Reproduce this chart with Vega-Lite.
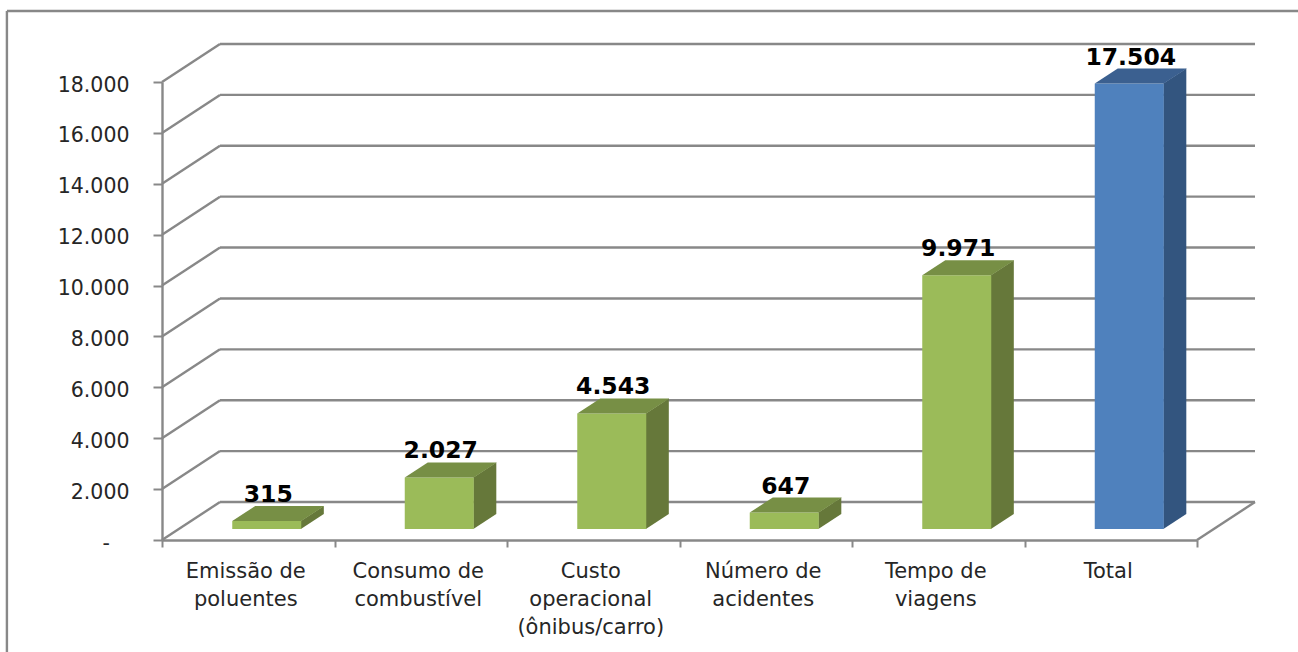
{
"$schema":"https://vega.github.io/schema/vega-lite/v6.json",
"width":1035,"height":458,
"autosize":{"type":"none"},
"padding":{"left":162,"top":82,"right":101,"bottom":112},
"background":"white",
"config":{"view":{"stroke":null},"locale":{"number":{"decimal":",","thousands":".","grouping":[3],"currency":["R$",""]}}},
"datasets":{
"barras":[
{"categoria":"Emissão de|poluentes","valor":315,"grupo":"Parcela"},
{"categoria":"Consumo de|combustível","valor":2027,"grupo":"Parcela"},
{"categoria":"Custo|operacional|(ônibus/carro)","valor":4543,"grupo":"Parcela"},
{"categoria":"Número de|acidentes","valor":647,"grupo":"Parcela"},
{"categoria":"Tempo de|viagens","valor":9971,"grupo":"Parcela"},
{"categoria":"Total","valor":17504,"grupo":"Total"}
],
"grade":[{"v":0},{"v":2000},{"v":4000},{"v":6000},{"v":8000},{"v":10000},{"v":12000},{"v":14000},{"v":16000},{"v":18000}]
},
"layer":[
{"data":{"values":[{"m":"a"}]},
 "mark":{"type":"rule","color":"#888888","strokeWidth":2.4,"clip":false},
 "encoding":{"x":{"datum":-0.899,"type":"quantitative","scale":{"domain":[0,6]},"axis":null},
  "y":{"datum":20790,"type":"quantitative","scale":{"domain":[0,18000],"nice":false},"axis":null},
  "y2":{"datum":-4600}}},
{"data":{"values":[{"m":"b"}]},
 "mark":{"type":"rule","color":"#888888","strokeWidth":2.4,"clip":false},
 "encoding":{"x":{"datum":-0.899,"type":"quantitative","scale":{"domain":[0,6]},"axis":null},
  "x2":{"datum":6.59},
  "y":{"datum":20790,"type":"quantitative","scale":{"domain":[0,18000],"nice":false},"axis":null}}},
{"data":{"name":"barras"},
 "mark":{"type":"bar","opacity":0},
 "encoding":{"x":{"field":"categoria","type":"nominal","sort":null,"scale":{"paddingInner":0,"paddingOuter":0},
   "axis":{"title":null,"tickBand":"extent","labelAngle":0,"labelExpr":"split(datum.label,'|')","labelFont":"DejaVu Sans","labelFontSize":21,"labelColor":"#262626","labelLineHeight":28,"labelPadding":13,"labelOffset":-3,"labelLimit":400,"labelBaseline":"top","domainColor":"#888888","domainWidth":2.4,"tickColor":"#888888","tickWidth":2,"tickSize":7}},
  "y":{"field":"valor","type":"quantitative","scale":{"domain":[0,18000],"nice":false},
   "axis":{"title":null,"values":[0,2000,4000,6000,8000,10000,12000,14000,16000,18000],"grid":false,"labelExpr":"datum.value==0?'-\u00a0\u00a0\u00a0\u200b':format(datum.value,',d')","labelFont":"DejaVu Sans","labelFontSize":20.5,"labelColor":"#262626","labelPadding":24,"labelOffset":3,"domainColor":"#888888","domainWidth":2.4,"tickColor":"#888888","tickWidth":2,"tickSize":9}}}},
{"data":{"name":"grade"},
 "mark":{"type":"rule","color":"#888888","strokeWidth":2.4,"xOffset":58,"x2Offset":58,"yOffset":-38,"clip":false},
 "encoding":{"x":{"datum":0,"type":"quantitative","scale":{"domain":[0,6]},"axis":null},"x2":{"datum":6},
  "y":{"field":"v","type":"quantitative","axis":null}}},
{"data":{"name":"grade"},
 "mark":{"type":"rule","color":"#888888","strokeWidth":2.4,"x2Offset":58,"y2Offset":-38,"clip":false},
 "encoding":{"x":{"datum":0,"type":"quantitative","scale":{"domain":[0,6]},"axis":null},"x2":{"datum":0},
  "y":{"field":"v","type":"quantitative","axis":null},"y2":{"field":"v"}}},
{"data":{"values":[{"m":"c"}]},
 "mark":{"type":"rule","color":"#888888","strokeWidth":2.4,"x2Offset":58,"y2Offset":-38,"clip":false},
 "encoding":{"x":{"datum":6,"type":"quantitative","scale":{"domain":[0,6]},"axis":null},"x2":{"datum":6},
  "y":{"datum":0,"type":"quantitative","axis":null},"y2":{"datum":0}}},
{"data":{"name":"barras"},
 "transform":[
  {"window":[{"op":"row_number","as":"n"}]},
  {"calculate":"[0,1]","as":"face"},
  {"flatten":["face"]},
  {"calculate":"datum.n-1+0.805+0.133*datum.face","as":"xp"},
  {"calculate":"datum.valor+590*datum.face","as":"yt"},
  {"calculate":"590*datum.face","as":"yb"}
 ],
 "mark":{"type":"area","orient":"vertical","yOffset":-11,"y2Offset":-11,"opacity":1,"clip":false},
 "encoding":{"x":{"field":"xp","type":"quantitative","scale":{"domain":[0,6]},"axis":null},
  "y":{"field":"yt","type":"quantitative","axis":null},"y2":{"field":"yb"},
  "detail":{"field":"categoria"},
  "color":{"field":"grupo","type":"nominal","scale":{"domain":["Parcela","Total"],"range":["#66783A","#33557F"]},"legend":null}}},
{"data":{"name":"barras"},
 "mark":{"type":"bar","width":69,"xOffset":18.5,"yOffset":-11,"y2Offset":-11,"clip":false},
 "encoding":{"x":{"field":"categoria","type":"nominal","sort":null,"scale":{"paddingInner":0,"paddingOuter":0},"axis":null},
  "y":{"field":"valor","type":"quantitative","axis":null},"y2":{"datum":0},
  "color":{"field":"grupo","type":"nominal","scale":{"domain":["Parcela","Total"],"range":["#9BBB59","#4F81BD"]},"legend":null}}},
{"data":{"name":"barras"},
 "mark":{"type":"point","filled":true,"size":4,"opacity":1,"strokeWidth":0,"shape":"M -16 -11 L 53 -11 L 76 -26 L 7 -26 Z","clip":false},
 "encoding":{"x":{"field":"categoria","type":"nominal","sort":null,"scale":{"paddingInner":0,"paddingOuter":0},"axis":null},
  "y":{"field":"valor","type":"quantitative","axis":null},
  "color":{"field":"grupo","type":"nominal","scale":{"domain":["Parcela","Total"],"range":["#778F45","#3B6090"]},"legend":null}}},
{"data":{"name":"barras"},
 "mark":{"type":"text","font":"DejaVu Sans","fontWeight":"bold","fontSize":23.5,"color":"#000000","align":"center","baseline":"alphabetic","xOffset":20,"yOffset":-30,"clip":false},
 "encoding":{"x":{"field":"categoria","type":"nominal","sort":null,"scale":{"paddingInner":0,"paddingOuter":0},"axis":null},
  "y":{"field":"valor","type":"quantitative","axis":null},
  "text":{"field":"valor","type":"quantitative","format":",d"}}}
],
"resolve":{"scale":{"x":"independent","color":"independent"},"axis":{"x":"independent","y":"independent"}}
}
